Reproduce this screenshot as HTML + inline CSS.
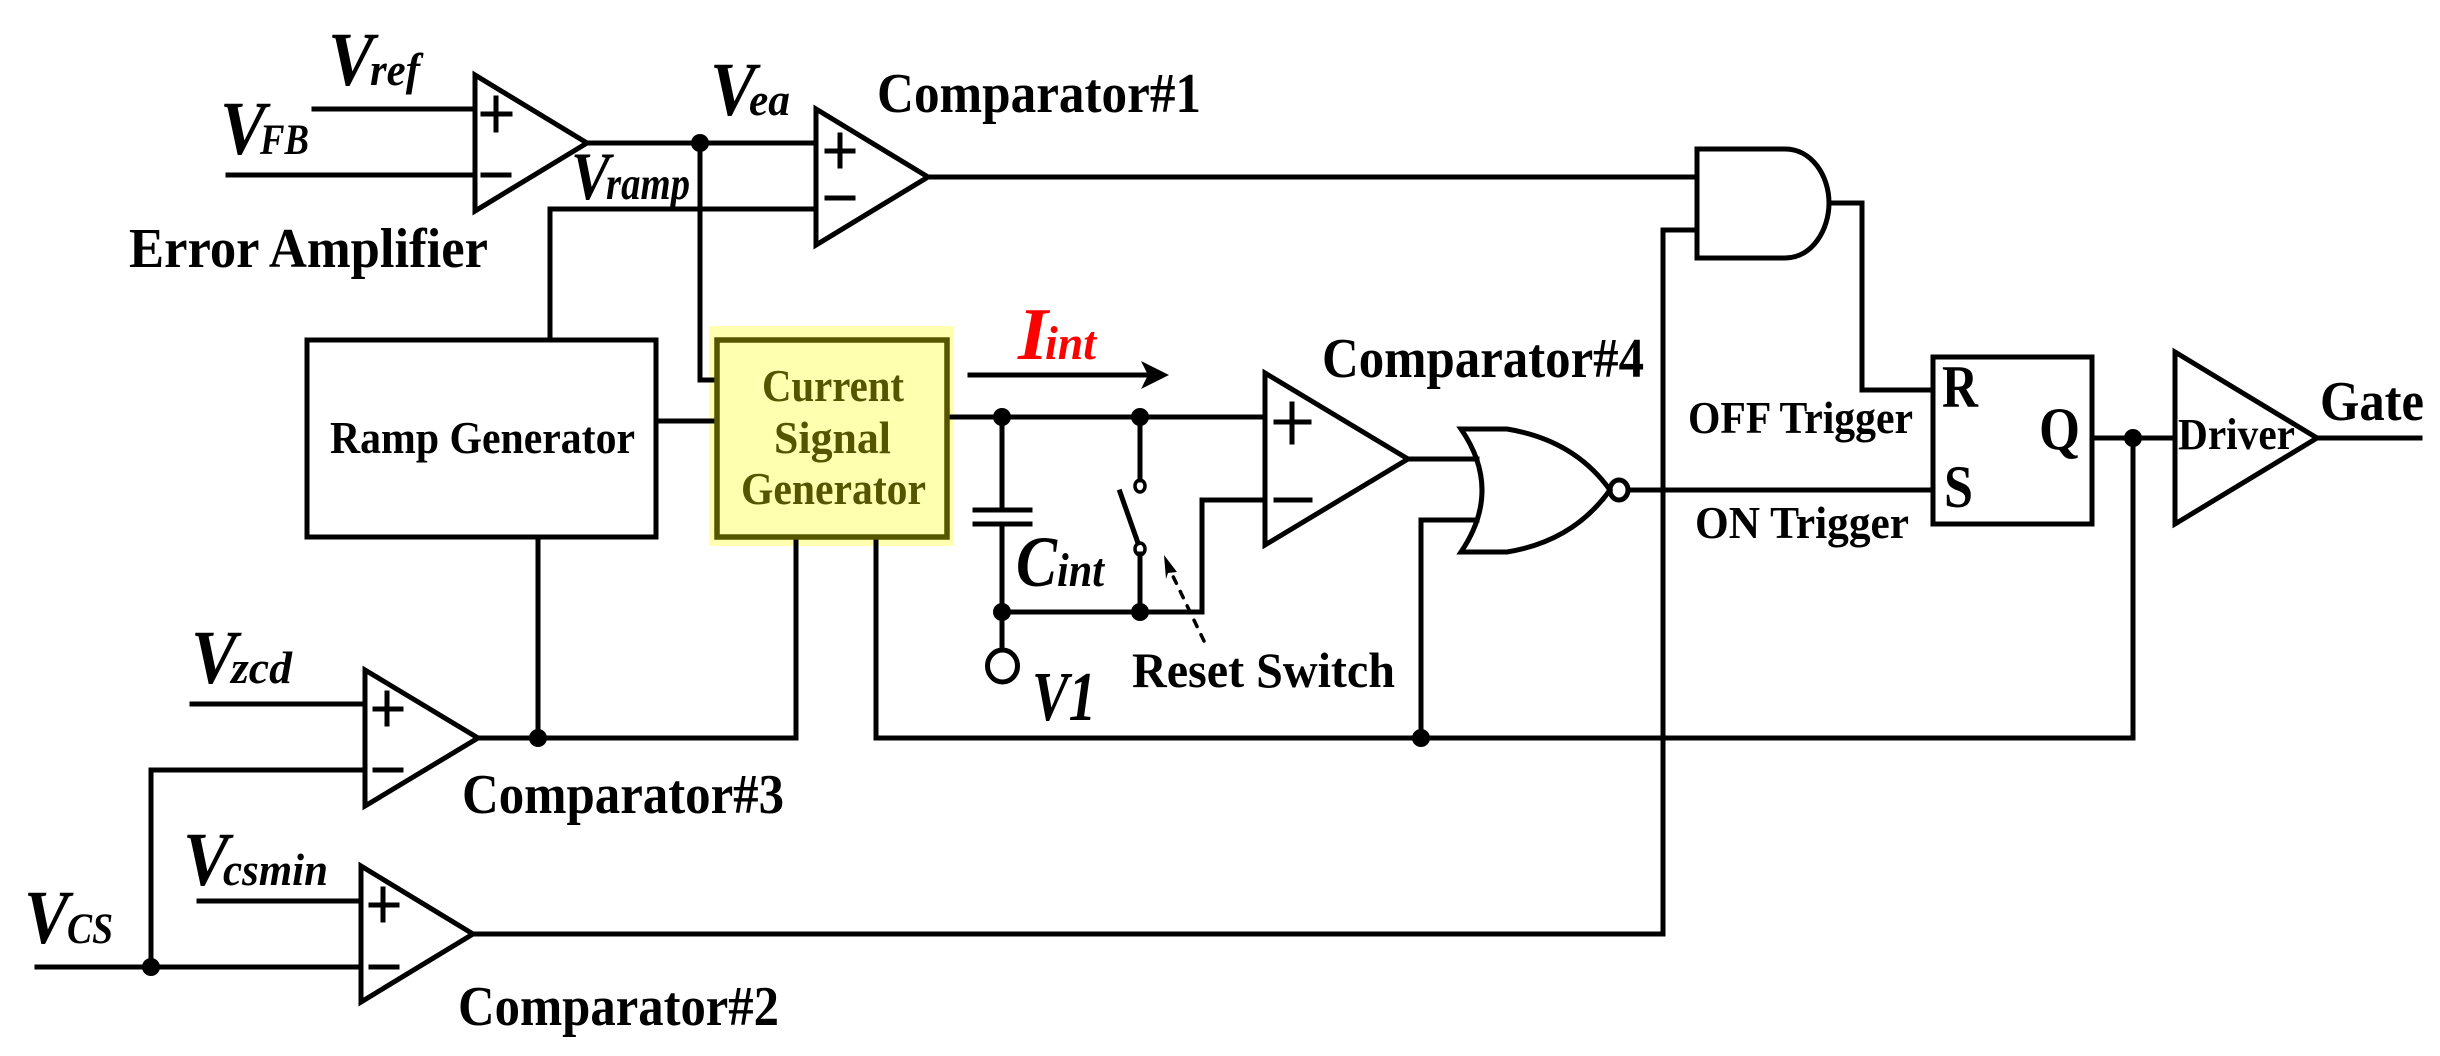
<!DOCTYPE html>
<html>
<head>
<meta charset="utf-8">
<style>
html,body{margin:0;padding:0;background:#fff;width:2440px;height:1056px;overflow:hidden}
svg{display:block}
text{font-family:"Liberation Serif",serif;font-weight:bold;fill:#000}
.i{font-style:italic}
</style>
</head>
<body>
<svg width="2440" height="1056" viewBox="0 0 2440 1056" xmlns="http://www.w3.org/2000/svg">
<rect width="2440" height="1056" fill="#fff"/>
<rect x="709" y="326" width="245" height="220" fill="#ffffb0"/>

<g fill="none" stroke="#000" stroke-width="5" stroke-linecap="square" stroke-linejoin="miter">
  <!-- Error amplifier -->
  <path d="M475 75L587 143L475 211Z"/>
  <path d="M314 109H475M228 175H475"/>
  <path d="M496 98V130M483 114H510M483 175H509"/>
  <path d="M587 143H816"/>
  <!-- Comparator 1 -->
  <path d="M816 109L928 177L816 245Z"/>
  <path d="M840 135V166M827 151H853M827 198H853"/>
  <path d="M550 339V209H816"/>
  <path d="M700 143V380H717"/>
  <path d="M928 177H1697"/>
  <!-- Ramp generator -->
  <rect x="307" y="340" width="349" height="197"/>
  <path d="M656 421H717"/>
  <path d="M538 537V738"/>
  <!-- Current generator wires -->
  <path d="M796 540V738M876 540V738"/>
  <path d="M478 738H796"/>
  <path d="M876 738H2133V438"/>
  <!-- Comparator 3 -->
  <path d="M365 670L478 738L365 806Z"/>
  <path d="M387 693V724M375 709H401M375 770H401"/>
  <path d="M192 704H365"/>
  <path d="M151 967V770H365"/>
  <!-- Comparator 2 -->
  <path d="M361 866L473 934L361 1002Z"/>
  <path d="M383 889V920M371 905H397M371 967H397"/>
  <path d="M199 901H361"/>
  <path d="M37 967H361"/>
  <path d="M473 934H1663V230H1697"/>
  <!-- AND gate -->
  <path d="M1697 149H1785C1812 149 1829 176 1829 203C1829 230 1812 258 1785 258H1697Z"/>
  <path d="M1829 203H1862V390H1933"/>
  <!-- FF -->
  <rect x="1933" y="357" width="159" height="167"/>
  <path d="M1628 490H1933"/>
  <path d="M2092 438H2175"/>
  <!-- Driver -->
  <path d="M2175 352L2317 438L2175 524Z"/>
  <path d="M2317 438H2420"/>
  <!-- Integrator -->
  <path d="M950 417H1265"/>
  <path d="M1002 417V510M975 510H1030M975 524H1030M1002 524V650"/>
  <ellipse cx="1002.500" cy="666" rx="15" ry="16"/>
  <path d="M1002 612H1202V500H1265"/>
  <path d="M1140 417V480M1140 554V612"/>
  <path d="M1120 492L1138 543"/>
  <ellipse cx="1140" cy="486" rx="5" ry="6" stroke-width="3.500"/>
  <ellipse cx="1140" cy="549" rx="5" ry="6" stroke-width="3.500"/>
  <!-- Comparator 4 -->
  <path d="M1265 373L1408 459L1265 545Z"/>
  <path d="M1292 404V442M1276 422H1309M1276 500H1310"/>
  <!-- NOR -->
  <path d="M1461 429H1507C1550 436 1585 455 1610 490C1585 525 1550 545 1507 552H1461Q1503 490 1461 429Z"/>
  <ellipse cx="1619" cy="490" rx="9" ry="10"/>
  <path d="M1408 459H1477M1421 738V520H1477"/>
  <!-- Arrow shaft -->
  <path d="M970 375H1150"/>
  <path d="M1204 641L1170 570" stroke-width="3.500" stroke-dasharray="7 9" stroke-linecap="round"/>
</g>
<rect x="717" y="340" width="230" height="197" fill="#ffffb0" stroke="#555500" stroke-width="5.500"/>

<g fill="#000">
  <circle cx="700" cy="143" r="9"/>
  <circle cx="538" cy="738" r="9"/>
  <circle cx="151" cy="967" r="9"/>
  <circle cx="1002" cy="417" r="9"/>
  <circle cx="1140" cy="417" r="9"/>
  <circle cx="1002" cy="612" r="9"/>
  <circle cx="1140" cy="612" r="9"/>
  <circle cx="1421" cy="738" r="9"/>
  <circle cx="2133" cy="438" r="9"/>
  <path d="M1141 361L1169 375L1141 389L1148 375Z"/>
  <path d="M1164 555L1177 572L1168 573L1166 579Z"/>
</g>

<!-- Labels -->
<text class="i" x="328" y="85" font-size="76" textLength="46" lengthAdjust="spacingAndGlyphs">V</text>
<text class="i" x="370" y="85" font-size="46" textLength="50" lengthAdjust="spacingAndGlyphs">ref</text>
<text class="i" x="220" y="154" font-size="76" textLength="46" lengthAdjust="spacingAndGlyphs">V</text>
<text class="i" x="260" y="154" font-size="43" textLength="49" lengthAdjust="spacingAndGlyphs">FB</text>
<text class="i" x="710" y="115" font-size="76" textLength="46" lengthAdjust="spacingAndGlyphs">V</text>
<text class="i" x="749" y="115" font-size="46" textLength="41" lengthAdjust="spacingAndGlyphs">ea</text>
<text class="i" x="571" y="199" font-size="68" textLength="39" lengthAdjust="spacingAndGlyphs">V</text>
<text class="i" x="606" y="199" font-size="47" textLength="84" lengthAdjust="spacingAndGlyphs">ramp</text>
<text x="129" y="267" font-size="56" textLength="359" lengthAdjust="spacingAndGlyphs">Error Amplifier</text>
<text x="877" y="112" font-size="56" textLength="324" lengthAdjust="spacingAndGlyphs">Comparator#1</text>
<text x="330" y="453" font-size="46" textLength="305" lengthAdjust="spacingAndGlyphs">Ramp Generator</text>
<g>
<text x="762" y="401" font-size="46" textLength="142" lengthAdjust="spacingAndGlyphs" style="fill:#555500">Current</text>
<text x="774" y="453" font-size="46" textLength="117" lengthAdjust="spacingAndGlyphs" style="fill:#555500">Signal</text>
<text x="741" y="504" font-size="46" textLength="185" lengthAdjust="spacingAndGlyphs" style="fill:#555500">Generator</text>
</g>
<text class="i" x="1018" y="359" font-size="74" textLength="30" lengthAdjust="spacingAndGlyphs" style="fill:#ff0000">I</text>
<text class="i" x="1045" y="359" font-size="48" textLength="51" lengthAdjust="spacingAndGlyphs" style="fill:#ff0000">int</text>
<text x="1322" y="377" font-size="56" textLength="322" lengthAdjust="spacingAndGlyphs">Comparator#4</text>
<text class="i" x="1016" y="586" font-size="72" textLength="41" lengthAdjust="spacingAndGlyphs">C</text>
<text class="i" x="1057" y="586" font-size="48" textLength="47" lengthAdjust="spacingAndGlyphs">int</text>
<text class="i" x="1032" y="720" font-size="70" textLength="64" lengthAdjust="spacingAndGlyphs">V1</text>
<text x="1132" y="687" font-size="50" textLength="263" lengthAdjust="spacingAndGlyphs">Reset Switch</text>
<text x="462" y="813" font-size="56" textLength="322" lengthAdjust="spacingAndGlyphs">Comparator#3</text>
<text x="458" y="1025" font-size="56" textLength="321" lengthAdjust="spacingAndGlyphs">Comparator#2</text>
<text class="i" x="191" y="683" font-size="76" textLength="46" lengthAdjust="spacingAndGlyphs">V</text>
<text class="i" x="231" y="683" font-size="46" textLength="61" lengthAdjust="spacingAndGlyphs">zcd</text>
<text class="i" x="183" y="885" font-size="76" textLength="46" lengthAdjust="spacingAndGlyphs">V</text>
<text class="i" x="223" y="885" font-size="46" textLength="105" lengthAdjust="spacingAndGlyphs">csmin</text>
<text class="i" x="24" y="943" font-size="76" textLength="45" lengthAdjust="spacingAndGlyphs">V</text>
<text class="i" x="67" y="943" font-size="43" textLength="46" lengthAdjust="spacingAndGlyphs">CS</text>
<text x="1688" y="433" font-size="46" textLength="225" lengthAdjust="spacingAndGlyphs">OFF Trigger</text>
<text x="1695" y="538" font-size="46" textLength="214" lengthAdjust="spacingAndGlyphs">ON Trigger</text>
<text x="1942" y="407" font-size="60" textLength="36" lengthAdjust="spacingAndGlyphs">R</text>
<text x="1944" y="507" font-size="60" textLength="29" lengthAdjust="spacingAndGlyphs">S</text>
<text x="2039" y="449" font-size="60" textLength="41" lengthAdjust="spacingAndGlyphs">Q</text>
<text x="2178" y="449" font-size="44" textLength="117" lengthAdjust="spacingAndGlyphs">Driver</text>
<text x="2320" y="420" font-size="56" textLength="104" lengthAdjust="spacingAndGlyphs">Gate</text>
</svg>
</body>
</html>
